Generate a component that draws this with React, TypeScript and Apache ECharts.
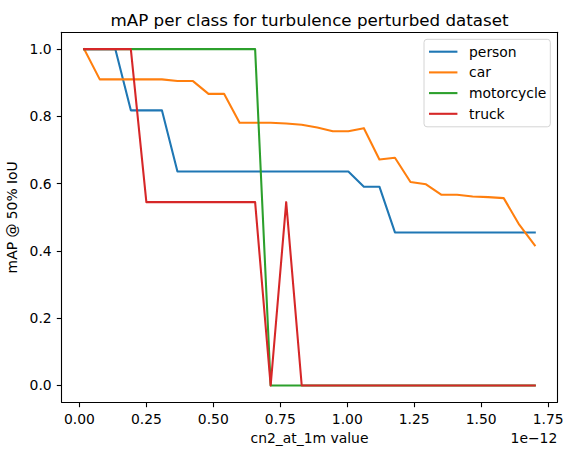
import React, { useEffect, useRef } from "react";
import * as echarts from "echarts";

const xValues = [
  0.018, 0.076, 0.134, 0.192, 0.25, 0.308, 0.366, 0.424, 0.482, 0.54,
  0.598, 0.656, 0.714, 0.772, 0.83, 0.888, 0.946, 1.004, 1.062, 1.12,
  1.178, 1.236, 1.294, 1.352, 1.41, 1.468, 1.526, 1.584, 1.642, 1.7,
];

const person = [
  1.0, 1.0, 1.0, 0.818, 0.818, 0.818, 0.636, 0.636, 0.636, 0.636,
  0.636, 0.636, 0.636, 0.636, 0.636, 0.636, 0.636, 0.636, 0.591, 0.591,
  0.455, 0.455, 0.455, 0.455, 0.455, 0.455, 0.455, 0.455, 0.455, 0.455,
];

const car = [
  1.0, 0.91, 0.91, 0.91, 0.91, 0.91, 0.905, 0.905, 0.867, 0.867,
  0.781, 0.781, 0.781, 0.779, 0.775, 0.767, 0.756, 0.756, 0.765, 0.672,
  0.677, 0.605, 0.598, 0.567, 0.567, 0.562, 0.56, 0.557, 0.478, 0.417,
];

const motorcycle = [
  1, 1, 1, 1, 1, 1, 1, 1, 1, 1,
  1, 1, 0, 0, 0, 0, 0, 0, 0, 0,
  0, 0, 0, 0, 0, 0, 0, 0, 0, 0,
];

const truck = [
  1, 1, 1, 1, 0.545, 0.545, 0.545, 0.545, 0.545, 0.545,
  0.545, 0.545, 0, 0.545, 0, 0, 0, 0, 0, 0,
  0, 0, 0, 0, 0, 0, 0, 0, 0, 0,
];

const seriesNames = ["person", "car", "motorcycle", "truck"];
const seriesColors = ["#1f77b4", "#ff7f0e", "#2ca02c", "#d62728"];
const seriesValues = [person, car, motorcycle, truck];

const xTicks = [0, 0.25, 0.5, 0.75, 1.0, 1.25, 1.5, 1.75];
const yTicks = [0, 0.2, 0.4, 0.6, 0.8, 1.0];

const FONT = "DejaVu Sans";

export default function App() {
  const ref = useRef<HTMLDivElement>(null);

  useEffect(() => {
    if (!ref.current) return;
    const chart = echarts.init(ref.current, undefined, { renderer: "svg" });

    const gridLeft = 61.7;
    const gridTop = 32.3;
    const gridWidth = 495.6;
    const gridHeight = 370;
    const XMIN = -0.0661;
    const XMAX = 1.7841;
    const YMIN = -0.05;
    const YMAX = 1.05;

    const frameLine = { show: true, lineStyle: { color: "#000000", width: 1.1 } };
    const labelStyle = {
      fontFamily: FONT,
      fontSize: 13.9,
      color: "#000000",
    };

    const option: any = {
      animation: false,
      backgroundColor: "#ffffff",
      textStyle: { fontFamily: FONT },
      title: {
        text: "mAP per class for turbulence perturbed dataset",
        left: gridLeft + gridWidth / 2,
        textAlign: "center",
        top: 11,
        padding: 0,
        textStyle: {
          fontFamily: FONT,
          fontSize: 16.7,
          fontWeight: "normal",
          color: "#000000",
        },
      },
      legend: {
        orient: "vertical",
        right: 22.7,
        top: 39.3,
        padding: [4.4, 4, 5, 5],
        itemGap: 4.7,
        itemWidth: 28.4,
        itemHeight: 2.1,
        icon: "rect",
        backgroundColor: "rgba(255,255,255,0.8)",
        borderColor: "#d4d4d4",
        borderWidth: 1,
        borderRadius: 3,
        textStyle: {
          ...labelStyle,
          lineHeight: 16,
          padding: [0, 0, 0, 6.6],
        },
        data: seriesNames,
      },
      grid: {
        left: gridLeft,
        top: gridTop,
        width: gridWidth,
        height: gridHeight,
        containLabel: false,
        outerBoundsMode: "none",
        show: false,
      },
      xAxis: [
        {
          type: "value",
          position: "bottom",
          min: XMIN,
          max: XMAX,
          name: "cn2_at_1m value",
          nameLocation: "middle",
          nameGap: 29,
          nameTextStyle: labelStyle,
          axisLine: { ...frameLine, onZero: false },
          splitLine: { show: false },
          axisTick: {
            show: true,
            length: 4.9,
            customValues: xTicks,
            lineStyle: { color: "#000000", width: 1.1 },
          },
          axisLabel: {
            ...labelStyle,
            customValues: xTicks,
            margin: 10,
            formatter: (v: number) => v.toFixed(2),
          },
        },
        {
          type: "value",
          position: "top",
          min: XMIN,
          max: XMAX,
          axisLine: { ...frameLine, onZero: false },
          axisTick: { show: false },
          axisLabel: { show: false },
          splitLine: { show: false },
        },
      ],
      yAxis: [
        {
          type: "value",
          position: "left",
          min: YMIN,
          max: YMAX,
          name: "mAP @ 50% IoU",
          nameLocation: "middle",
          nameGap: 35.5,
          nameTextStyle: labelStyle,
          axisLine: { ...frameLine, onZero: false },
          splitLine: { show: false },
          axisTick: {
            show: true,
            length: 4.9,
            customValues: yTicks,
            lineStyle: { color: "#000000", width: 1.1 },
          },
          axisLabel: {
            ...labelStyle,
            customValues: yTicks,
            margin: 10,
            formatter: (v: number) => v.toFixed(1),
          },
        },
        {
          type: "value",
          position: "right",
          min: YMIN,
          max: YMAX,
          axisLine: { ...frameLine, onZero: false },
          axisTick: { show: false },
          axisLabel: { show: false },
          splitLine: { show: false },
        },
      ],
      graphic: [
        {
          type: "text",
          x: gridLeft + gridWidth,
          y: 437.6,
          style: {
            text: "1e\u221212",
            fontFamily: FONT,
            fontSize: 13.9,
            fill: "#000000",
            align: "right",
            verticalAlign: "middle",
          },
        },
      ],
      series: seriesNames.map((name, k) => ({
        name,
        type: "line",
        xAxisIndex: 0,
        yAxisIndex: 0,
        data: xValues.map((x, i) => [x, seriesValues[k][i]]),
        showSymbol: false,
        symbol: "none",
        color: seriesColors[k],
        lineStyle: {
          color: seriesColors[k],
          width: 2.08,
          cap: "square",
          join: "round",
        },
        emphasis: { disabled: true },
      })),
    };

    chart.setOption(option);
    return () => {
      chart.dispose();
    };
  }, []);

  return (
    <div
      ref={ref}
      style={{
        position: "fixed",
        left: 0,
        top: 0,
        width: 573,
        height: 455,
        background: "#ffffff",
      }}
    />
  );
}
